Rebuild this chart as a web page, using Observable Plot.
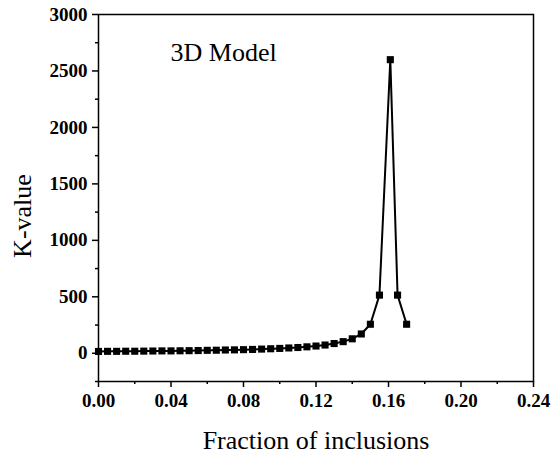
<!DOCTYPE html>
<html>
<head>
<meta charset="utf-8">
<script src="https://cdn.jsdelivr.net/npm/d3@7"></script>
<script src="https://cdn.jsdelivr.net/npm/@observablehq/plot@0.6"></script>
<style>
  html, body { margin: 0; padding: 0; background: #fff; }
  #chart svg { display: block; }
</style>
</head>
<body>
<div id="chart"></div>
<script>
// Fraction of inclusions (x) and K-value (y)
const fractions = [0, 0.005, 0.01, 0.015, 0.02, 0.025, 0.03, 0.035, 0.04, 0.045,
  0.05, 0.055, 0.06, 0.065, 0.07, 0.075, 0.08, 0.085, 0.09, 0.095,
  0.10, 0.105, 0.11, 0.115, 0.12, 0.125, 0.13, 0.135, 0.14, 0.145,
  0.15, 0.155, 0.161, 0.165, 0.17];
const kValues = [16, 17, 17, 18, 18, 19, 20, 21, 21, 22,
  23, 24, 26, 27, 29, 30, 32, 34, 37, 40,
  43, 47, 51, 57, 64, 73, 86, 103, 128, 171,
  257, 515, 2600, 515, 257];
const xTicks = [0, 0.04, 0.08, 0.12, 0.16, 0.20, 0.24];
const xMinorTicks = [0.02, 0.06, 0.10, 0.14, 0.18, 0.22];
const yTicks = [0, 500, 1000, 1500, 2000, 2500, 3000];
const yMinorTicks = [-250, 250, 750, 1250, 1750, 2250, 2750];
const xTitle = "Fraction of inclusions";
const yTitle = "K-value";
const annotation = "3D Model";

const data = fractions.map((f, i) => ({f, k: kValues[i]}));
const font = "'Liberation Serif', 'Times New Roman', serif";

const chart = Plot.plot({
  width: 552,
  height: 455,
  marginLeft: 98,
  marginRight: 19,
  marginTop: 14,
  marginBottom: 74,
  style: {fontFamily: font, color: "black", background: "white"},
  x: {domain: [0, 0.24]},
  y: {domain: [-250, 3000]},
  marks: [
    Plot.axisX({ticks: xTicks, tickSize: 6, tickPadding: 6, tickFormat: d3.format(".2f"),
      fontSize: 19, fontWeight: "bold", label: null, strokeWidth: 1.5}),
    Plot.axisX({ticks: xMinorTicks, tickSize: 3, text: null, label: null, strokeWidth: 1.5}),
    Plot.axisY({ticks: yTicks, tickSize: 6, tickPadding: 5, tickFormat: d => String(d),
      fontSize: 19, fontWeight: "bold", label: null, strokeWidth: 1.5}),
    Plot.axisY({ticks: yMinorTicks, tickSize: 3, text: null, label: null, strokeWidth: 1.5}),
    Plot.frame({stroke: "black", strokeWidth: 1.5}),
    Plot.line(data, {x: "f", y: "k", stroke: "black", strokeWidth: 2}),
    Plot.dot(data, {x: "f", y: "k", symbol: "square", r: 4, fill: "black", stroke: "none"}),
    Plot.text([xTitle], {frameAnchor: "bottom", lineAnchor: "middle", textAnchor: "middle",
      dy: 59, dx: 0, text: d => d, fontSize: 26, fill: "black"}),
    Plot.text([yTitle], {frameAnchor: "left", lineAnchor: "middle", textAnchor: "middle",
      dx: -76, dy: 18, rotate: -90, text: d => d, fontSize: 26, fill: "black"}),
    Plot.text([annotation], {frameAnchor: "top-left", lineAnchor: "middle", dx: 72, dy: 38,
      text: d => d, textAnchor: "start", fontSize: 26, fill: "black"})
  ]
});
document.getElementById("chart").appendChild(chart);
</script>
</body>
</html>
